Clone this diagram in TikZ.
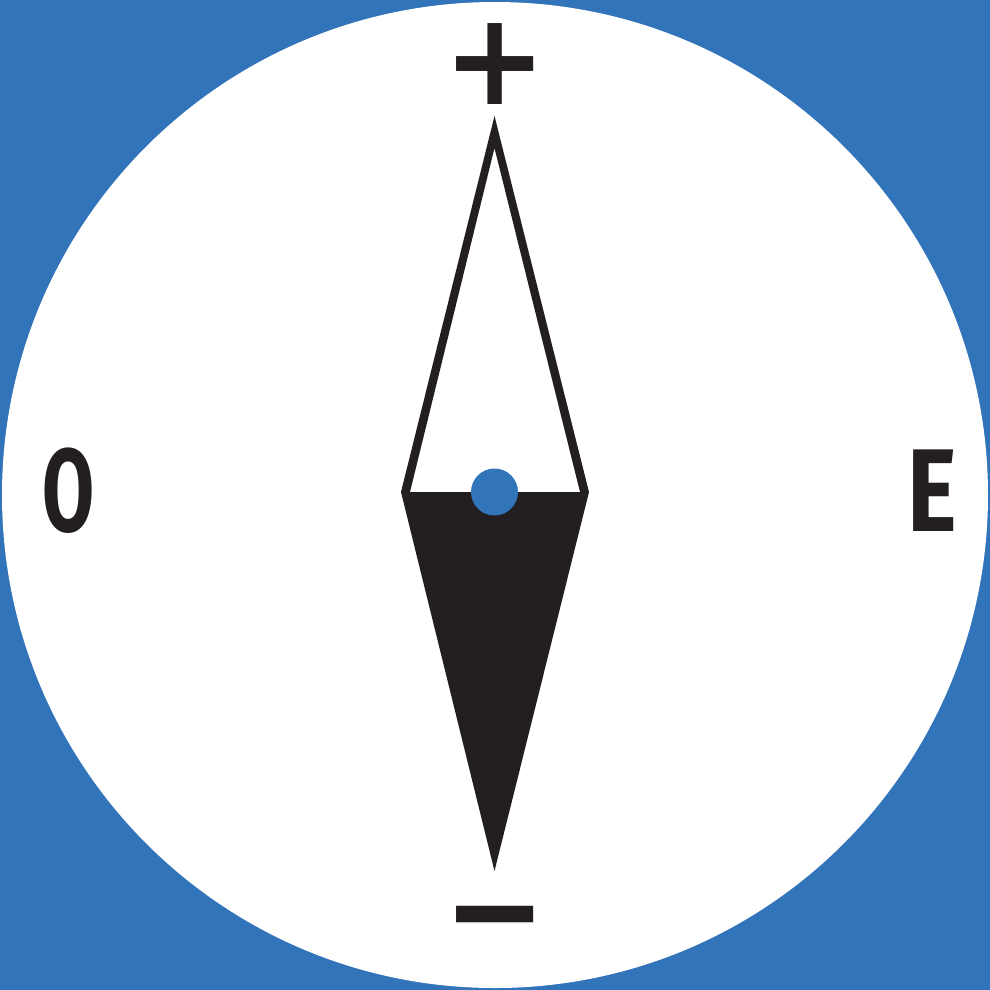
\documentclass[tikz,border=0pt]{standalone}
\usepackage{fontspec}
\setmainfont{Fira Sans}
\newfontfamily\symfont{DejaVu Sans}
\definecolor{compassblue}{RGB}{50,116,186}
\definecolor{ink}{RGB}{35,31,32}
\begin{document}
\begin{tikzpicture}[x=0.01cm,y=-0.01cm,
  letter/.style={inner sep=0pt, text=ink, font=\fontsize{33.5}{33.5}\selectfont\bfseries},
  polarity/.style={inner sep=0pt, text=ink, font=\fontsize{34}{34}\selectfont\symfont\bfseries}]
\useasboundingbox (0,0) rectangle (990,990);
\fill[compassblue] (0,0) rectangle (990,990);
\fill[white] (495,495) circle (493);
% lower needle
\fill[ink] (401,492) -- (589,492) -- (494.5,871) -- cycle;
% upper needle outline
\fill[ink,even odd rule] (401,492) -- (494.5,116) -- (589,492) -- cycle
  (410,492) -- (494.5,148) -- (580,492) -- cycle;
\fill[compassblue] (494.5,492) circle (23.5);
\node[letter, xscale=0.64] (west) at (69,491) {O};
\node[letter, xscale=0.8] (east) at (932,491) {E};
\node[polarity, xscale=1.03, yscale=1.08] (plus) at (495,64) {+};
\node[polarity, xscale=1.03, yscale=1.2] (minus) at (495,933) {−};
\end{tikzpicture}
\end{document}
